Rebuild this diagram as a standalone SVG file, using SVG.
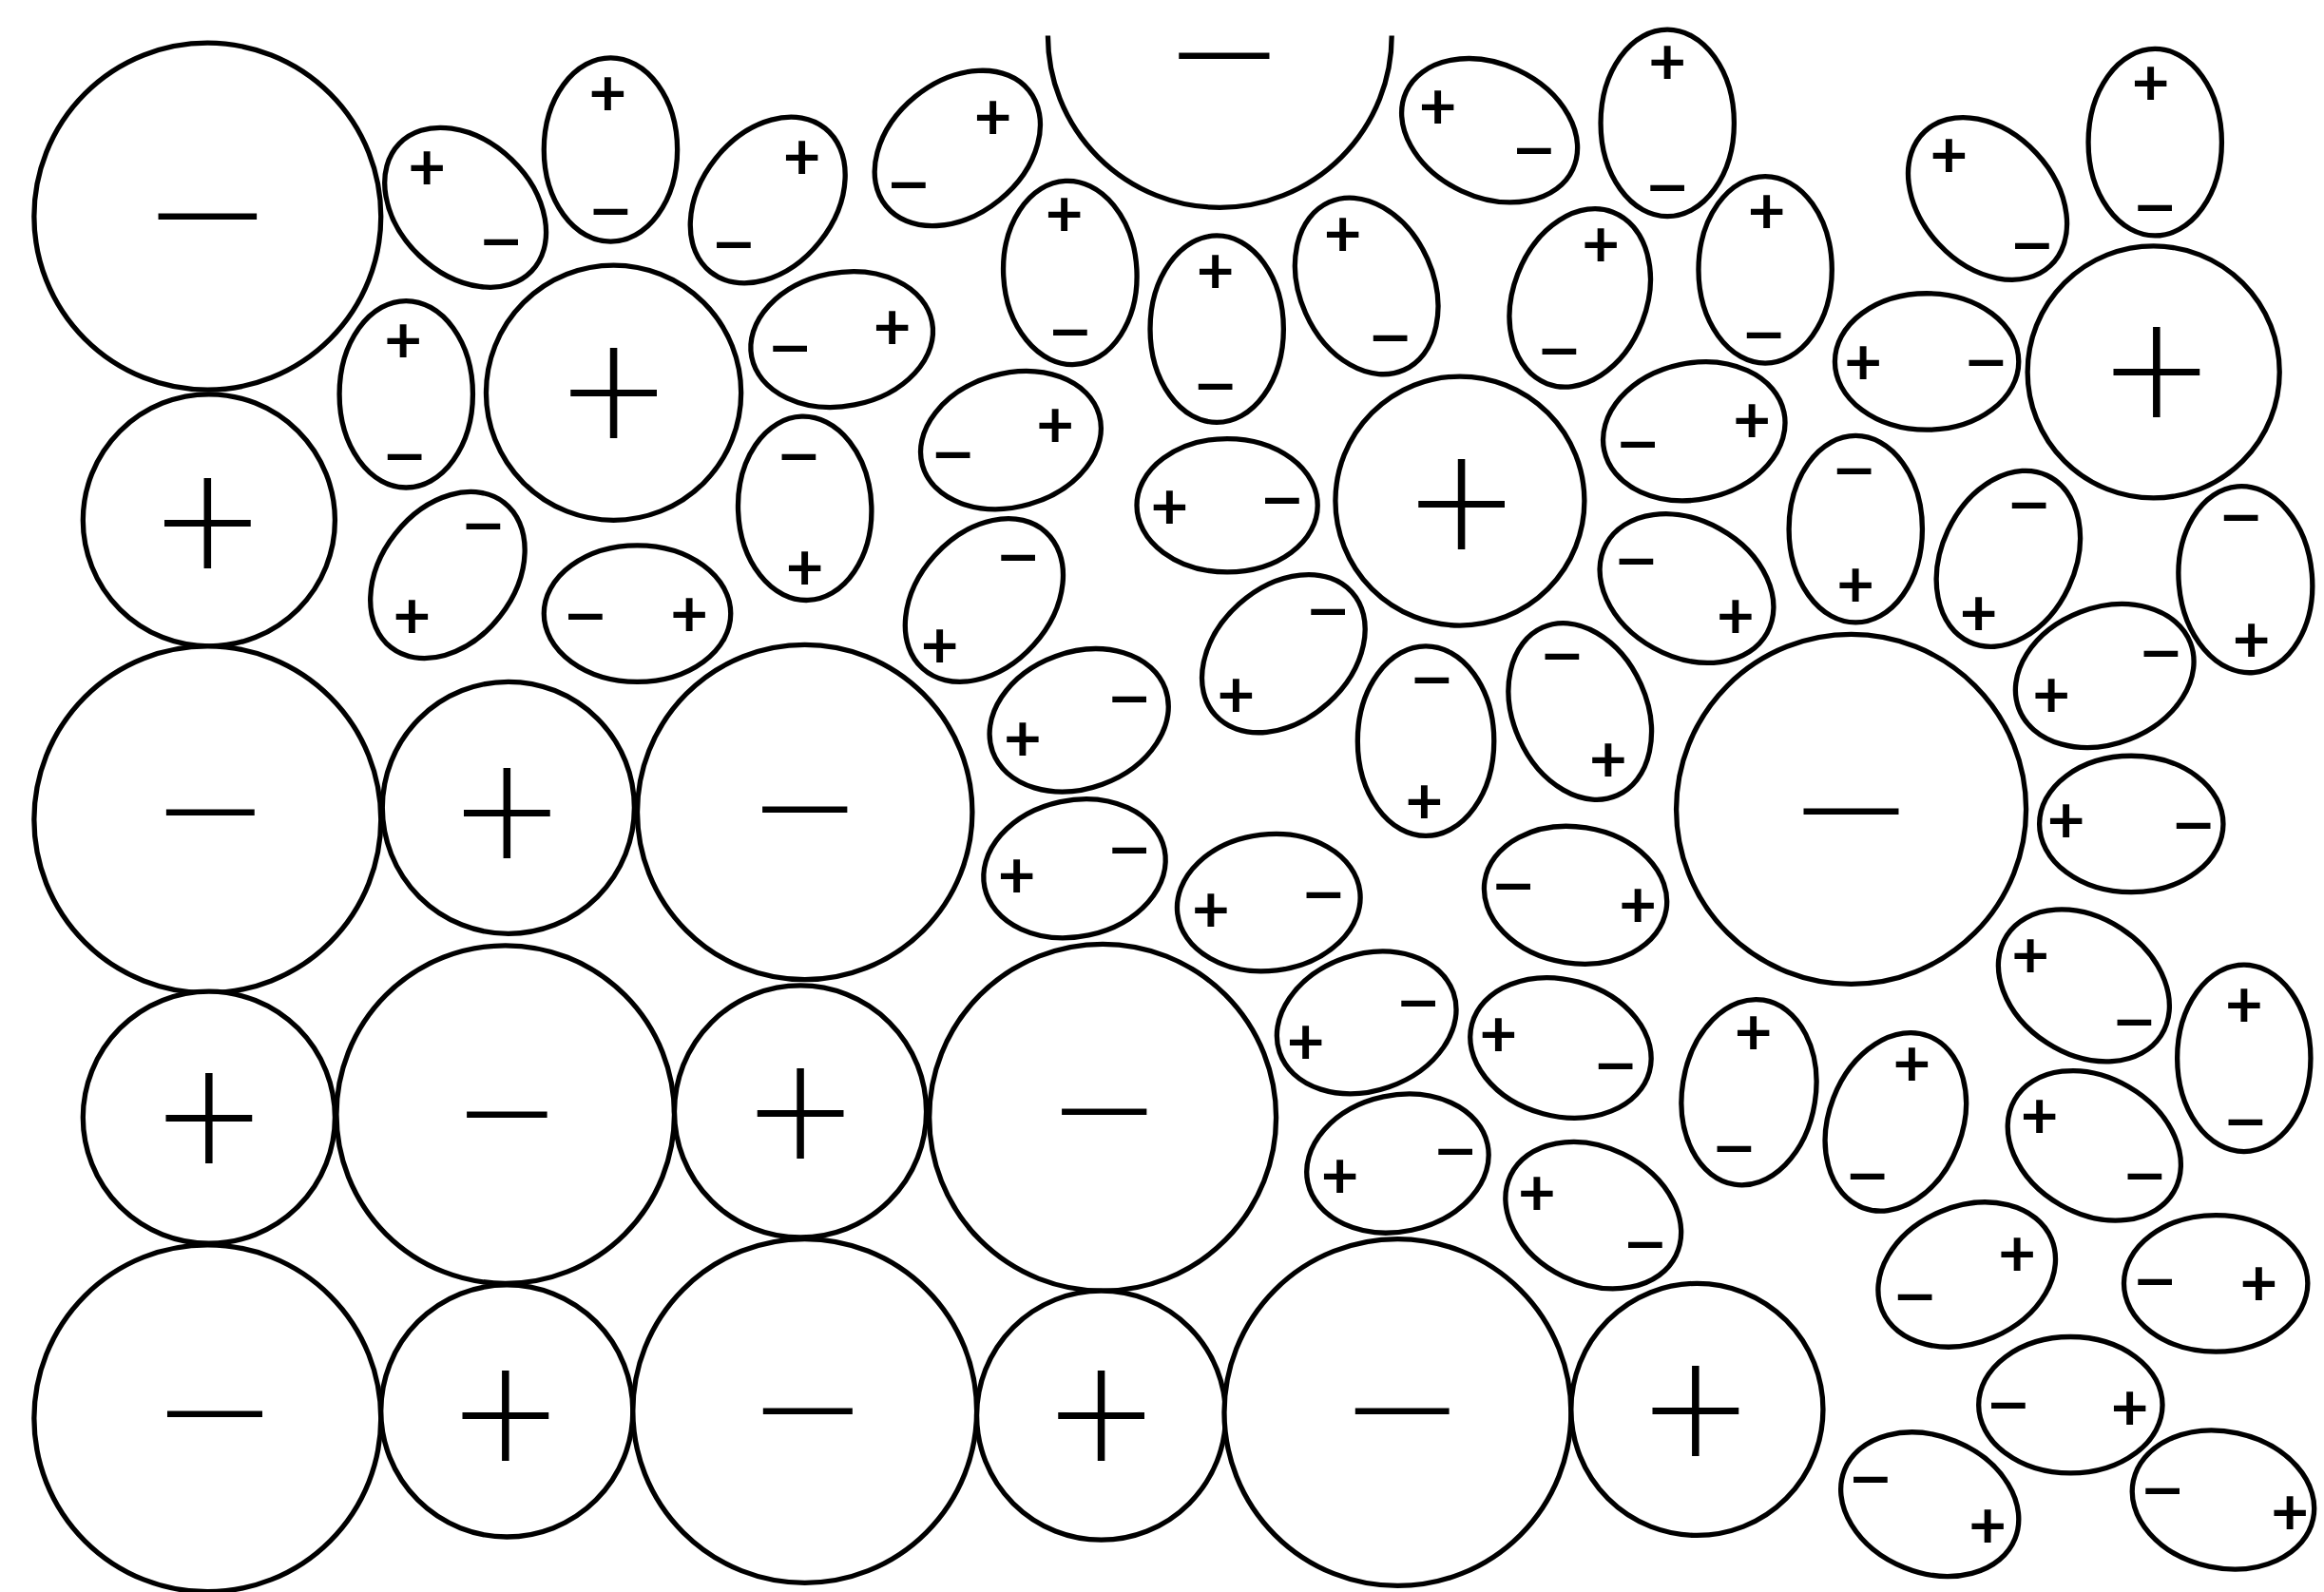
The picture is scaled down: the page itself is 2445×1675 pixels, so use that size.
<svg xmlns="http://www.w3.org/2000/svg" width="2445" height="1675" viewBox="0 0 2445 1675">
<style>
.o{fill:#fff;stroke:#000;stroke-width:3.4}
.a{fill:none;stroke:#000;stroke-width:3.4}
.bp{font-family:Lato,'Noto Sans',sans-serif;font-weight:300;font-size:124px;text-anchor:middle;dominant-baseline:central;fill:#000}
.bm{font-family:Lato,'Noto Sans',sans-serif;font-weight:700;font-size:45px;text-anchor:middle;dominant-baseline:central;fill:#000}
.sp,.sm{font-family:Lato,'Liberation Sans',sans-serif;font-weight:700;font-size:44px;text-anchor:middle;dominant-baseline:central;fill:#000}
</style>
<rect width="2445" height="1675" fill="#fff"/>
<g id="connectors"/>
<g transform="scale(1.55931)">
<g id="ion1"><circle class="o" cx="140" cy="146" r="117"/><text class="bm" x="140" y="144.5" textLength="87" lengthAdjust="spacingAndGlyphs">−</text></g>
<g id="ion2"><circle class="o" cx="141" cy="351" r="85"/><text class="bp" x="140" y="346">+</text></g>
<g id="ion3"><circle class="o" cx="414" cy="265" r="86"/><text class="bp" x="414" y="258.5">+</text></g>
<g id="ion4"><path class="a" d="M707,24 A116,116 0 1 0 939,24"/><text class="bm" x="826" y="36" textLength="80" lengthAdjust="spacingAndGlyphs">−</text></g>
<g id="ion5"><circle class="o" cx="985" cy="338" r="84"/><text class="bp" x="986" y="333.5">+</text></g>
<g id="ion6"><circle class="o" cx="1453" cy="251" r="85"/><text class="bp" x="1455" y="244.5">+</text></g>
<g id="ion7"><circle class="o" cx="140" cy="553" r="117"/><text class="bm" x="142" y="546.5" textLength="78" lengthAdjust="spacingAndGlyphs">−</text></g>
<g id="ion8"><circle class="o" cx="343" cy="545" r="85"/><text class="bp" x="342" y="542">+</text></g>
<g id="ion9"><circle class="o" cx="543" cy="548" r="113"/><text class="bm" x="543" y="544.5" textLength="75" lengthAdjust="spacingAndGlyphs">−</text></g>
<g id="ion10"><circle class="o" cx="1249" cy="546" r="118"/><text class="bm" x="1249" y="545.5" textLength="84" lengthAdjust="spacingAndGlyphs">−</text></g>
<g id="ion11"><circle class="o" cx="141" cy="754" r="85"/><text class="bp" x="141" y="747.5">+</text></g>
<g id="ion12"><circle class="o" cx="341" cy="752" r="114"/><text class="bm" x="342" y="750.5" textLength="71" lengthAdjust="spacingAndGlyphs">−</text></g>
<g id="ion13"><circle class="o" cx="540" cy="750" r="85"/><text class="bp" x="540" y="744.5">+</text></g>
<g id="ion14"><circle class="o" cx="744" cy="754" r="117"/><text class="bm" x="745" y="748.5" textLength="75" lengthAdjust="spacingAndGlyphs">−</text></g>
<g id="ion15"><circle class="o" cx="140" cy="957" r="117"/><text class="bm" x="145" y="952.5" textLength="84" lengthAdjust="spacingAndGlyphs">−</text></g>
<g id="ion16"><circle class="o" cx="342" cy="952" r="85"/><text class="bp" x="341" y="948.5">+</text></g>
<g id="ion17"><circle class="o" cx="543" cy="952" r="116"/><text class="bm" x="545" y="950.5" textLength="79" lengthAdjust="spacingAndGlyphs">−</text></g>
<g id="ion18"><circle class="o" cx="743" cy="955" r="84"/><text class="bp" x="743" y="948.5">+</text></g>
<g id="ion19"><circle class="o" cx="943" cy="953" r="117"/><text class="bm" x="946" y="950.5" textLength="83" lengthAdjust="spacingAndGlyphs">−</text></g>
<g id="ion20"><circle class="o" cx="1145" cy="951" r="85"/><text class="bp" x="1144" y="945.5">+</text></g>

<g id="dipole1"><ellipse class="o" cx="314" cy="140" rx="62" ry="45" transform="rotate(44 314 140)"/><text class="sp" x="288" y="111">+</text><text class="sm" x="338" y="161" textLength="30" lengthAdjust="spacingAndGlyphs">−</text></g>
<g id="dipole2"><ellipse class="o" cx="412" cy="101" rx="62" ry="45" transform="rotate(90 412 101)"/><text class="sp" x="410" y="61">+</text><text class="sm" x="412" y="141" textLength="30" lengthAdjust="spacingAndGlyphs">−</text></g>
<g id="dipole3"><ellipse class="o" cx="518" cy="135" rx="62" ry="45" transform="rotate(-51.5 518 135)"/><text class="sp" x="541" y="104">+</text><text class="sm" x="495" y="163" textLength="30" lengthAdjust="spacingAndGlyphs">−</text></g>
<g id="dipole4"><ellipse class="o" cx="646" cy="100" rx="62" ry="45" transform="rotate(-39 646 100)"/><text class="sp" x="670" y="77">+</text><text class="sm" x="613" y="123" textLength="30" lengthAdjust="spacingAndGlyphs">−</text></g>
<g id="dipole5"><ellipse class="o" cx="722" cy="184" rx="62" ry="45" transform="rotate(87 722 184)"/><text class="sp" x="718" y="143">+</text><text class="sm" x="722" y="222" textLength="30" lengthAdjust="spacingAndGlyphs">−</text></g>
<g id="dipole6"><ellipse class="o" cx="1005" cy="88" rx="62" ry="45" transform="rotate(25 1005 88)"/><text class="sp" x="970" y="70">+</text><text class="sm" x="1035" y="100" textLength="30" lengthAdjust="spacingAndGlyphs">−</text></g>
<g id="dipole7"><ellipse class="o" cx="1125" cy="83" rx="63" ry="45" transform="rotate(90 1125 83)"/><text class="sp" x="1125" y="40">+</text><text class="sm" x="1125" y="125" textLength="30" lengthAdjust="spacingAndGlyphs">−</text></g>
<g id="dipole8"><ellipse class="o" cx="1341" cy="134" rx="62" ry="45" transform="rotate(47 1341 134)"/><text class="sp" x="1315" y="103">+</text><text class="sm" x="1371" y="164" textLength="30" lengthAdjust="spacingAndGlyphs">−</text></g>
<g id="dipole9"><ellipse class="o" cx="1454" cy="96" rx="63" ry="45" transform="rotate(90 1454 96)"/><text class="sp" x="1451" y="54">+</text><text class="sm" x="1454" y="138" textLength="30" lengthAdjust="spacingAndGlyphs">−</text></g>
<g id="dipole10"><ellipse class="o" cx="274" cy="266" rx="63" ry="45" transform="rotate(90 274 266)"/><text class="sp" x="272" y="228">+</text><text class="sm" x="273" y="306" textLength="30" lengthAdjust="spacingAndGlyphs">−</text></g>
<g id="dipole11"><ellipse class="o" cx="568" cy="229" rx="62" ry="45" transform="rotate(-11 568 229)"/><text class="sm" x="533" y="233" textLength="30" lengthAdjust="spacingAndGlyphs">−</text><text class="sp" x="602" y="219">+</text></g>
<g id="dipole12"><ellipse class="o" cx="821" cy="222" rx="63" ry="45" transform="rotate(90 821 222)"/><text class="sp" x="820" y="181">+</text><text class="sm" x="820" y="259" textLength="30" lengthAdjust="spacingAndGlyphs">−</text></g>
<g id="dipole13"><ellipse class="o" cx="922" cy="193" rx="62" ry="45" transform="rotate(66 922 193)"/><text class="sp" x="906" y="156">+</text><text class="sm" x="938" y="226" textLength="30" lengthAdjust="spacingAndGlyphs">−</text></g>
<g id="dipole14"><ellipse class="o" cx="1066" cy="201" rx="62" ry="45" transform="rotate(111 1066 201)"/><text class="sp" x="1080" y="163">+</text><text class="sm" x="1052" y="235" textLength="30" lengthAdjust="spacingAndGlyphs">−</text></g>
<g id="dipole15"><ellipse class="o" cx="1191" cy="182" rx="63" ry="45" transform="rotate(90 1191 182)"/><text class="sp" x="1192" y="141">+</text><text class="sm" x="1190" y="224" textLength="30" lengthAdjust="spacingAndGlyphs">−</text></g>
<g id="dipole16"><ellipse class="o" cx="1300" cy="244" rx="62" ry="46" transform="rotate(0 1300 244)"/><text class="sp" x="1257" y="243">+</text><text class="sm" x="1340" y="243" textLength="30" lengthAdjust="spacingAndGlyphs">−</text></g>
<g id="dipole17"><ellipse class="o" cx="682" cy="297" rx="62" ry="45" transform="rotate(-16 682 297)"/><text class="sm" x="643" y="305" textLength="30" lengthAdjust="spacingAndGlyphs">−</text><text class="sp" x="712" y="285">+</text></g>
<g id="dipole18"><ellipse class="o" cx="543" cy="343" rx="62" ry="45" transform="rotate(88 543 343)"/><text class="sm" x="539" y="306" textLength="30" lengthAdjust="spacingAndGlyphs">−</text><text class="sp" x="543" y="381">+</text></g>
<g id="dipole19"><ellipse class="o" cx="302" cy="388" rx="62" ry="45" transform="rotate(-52 302 388)"/><text class="sp" x="278" y="414">+</text><text class="sm" x="326" y="353" textLength="30" lengthAdjust="spacingAndGlyphs">−</text></g>
<g id="dipole20"><ellipse class="o" cx="430" cy="414" rx="63" ry="46" transform="rotate(0 430 414)"/><text class="sm" x="395" y="414" textLength="30" lengthAdjust="spacingAndGlyphs">−</text><text class="sp" x="465" y="413">+</text></g>
<g id="dipole21"><ellipse class="o" cx="828" cy="341" rx="61" ry="45" transform="rotate(0 828 341)"/><text class="sp" x="789" y="340">+</text><text class="sm" x="865" y="336" textLength="30" lengthAdjust="spacingAndGlyphs">−</text></g>
<g id="dipole22"><ellipse class="o" cx="1143" cy="291" rx="62" ry="46" transform="rotate(-12 1143 291)"/><text class="sm" x="1105" y="298" textLength="30" lengthAdjust="spacingAndGlyphs">−</text><text class="sp" x="1182" y="282">+</text></g>
<g id="dipole23"><ellipse class="o" cx="1252" cy="357" rx="63" ry="45" transform="rotate(90 1252 357)"/><text class="sm" x="1251" y="316" textLength="30" lengthAdjust="spacingAndGlyphs">−</text><text class="sp" x="1252" y="393">+</text></g>
<g id="dipole24"><ellipse class="o" cx="1355" cy="377" rx="62" ry="45" transform="rotate(115 1355 377)"/><text class="sm" x="1369" y="339" textLength="30" lengthAdjust="spacingAndGlyphs">−</text><text class="sp" x="1335" y="412">+</text></g>
<g id="dipole25"><ellipse class="o" cx="1515" cy="391" rx="63" ry="45" transform="rotate(85 1515 391)"/><text class="sm" x="1512" y="347" textLength="30" lengthAdjust="spacingAndGlyphs">−</text><text class="sp" x="1519" y="430">+</text></g>
<g id="dipole26"><ellipse class="o" cx="664" cy="405" rx="62" ry="45" transform="rotate(-48 664 405)"/><text class="sm" x="687" y="374" textLength="30" lengthAdjust="spacingAndGlyphs">−</text><text class="sp" x="634" y="434">+</text></g>
<g id="dipole27"><ellipse class="o" cx="866" cy="441" rx="62" ry="45" transform="rotate(-42 866 441)"/><text class="sm" x="896" y="411" textLength="30" lengthAdjust="spacingAndGlyphs">−</text><text class="sp" x="834" y="467">+</text></g>
<g id="dipole28"><ellipse class="o" cx="1138" cy="397" rx="62" ry="46" transform="rotate(29 1138 397)"/><text class="sm" x="1104" y="377" textLength="30" lengthAdjust="spacingAndGlyphs">−</text><text class="sp" x="1171" y="414">+</text></g>
<g id="dipole29"><ellipse class="o" cx="1420" cy="456" rx="62" ry="46" transform="rotate(-21 1420 456)"/><text class="sp" x="1384" y="467">+</text><text class="sm" x="1458" y="439" textLength="30" lengthAdjust="spacingAndGlyphs">−</text></g>
<g id="dipole30"><ellipse class="o" cx="728" cy="486" rx="62" ry="46" transform="rotate(-20 728 486)"/><text class="sp" x="690" y="497">+</text><text class="sm" x="762" y="470" textLength="30" lengthAdjust="spacingAndGlyphs">−</text></g>
<g id="dipole31"><ellipse class="o" cx="962" cy="500" rx="64" ry="46" transform="rotate(90 962 500)"/><text class="sm" x="966" y="457" textLength="30" lengthAdjust="spacingAndGlyphs">−</text><text class="sp" x="961" y="539">+</text></g>
<g id="dipole32"><ellipse class="o" cx="1066" cy="480" rx="62" ry="45" transform="rotate(66 1066 480)"/><text class="sm" x="1054" y="441" textLength="30" lengthAdjust="spacingAndGlyphs">−</text><text class="sp" x="1085" y="511">+</text></g>
<g id="dipole33"><ellipse class="o" cx="1438" cy="556" rx="62" ry="46" transform="rotate(0 1438 556)"/><text class="sp" x="1394" y="552">+</text><text class="sm" x="1480" y="555" textLength="30" lengthAdjust="spacingAndGlyphs">−</text></g>
<g id="dipole34"><ellipse class="o" cx="725" cy="586" rx="62" ry="46" transform="rotate(-12 725 586)"/><text class="sp" x="686" y="589">+</text><text class="sm" x="762" y="572" textLength="30" lengthAdjust="spacingAndGlyphs">−</text></g>
<g id="dipole35"><ellipse class="o" cx="856" cy="609" rx="62" ry="46" transform="rotate(-7 856 609)"/><text class="sp" x="817" y="612">+</text><text class="sm" x="893" y="602" textLength="30" lengthAdjust="spacingAndGlyphs">−</text></g>
<g id="dipole36"><ellipse class="o" cx="1063" cy="604" rx="62" ry="46" transform="rotate(9 1063 604)"/><text class="sm" x="1021" y="596" textLength="30" lengthAdjust="spacingAndGlyphs">−</text><text class="sp" x="1105" y="609">+</text></g>
<g id="dipole37"><ellipse class="o" cx="1406" cy="665" rx="62" ry="46" transform="rotate(33 1406 665)"/><text class="sp" x="1370" y="643">+</text><text class="sm" x="1440" y="688" textLength="30" lengthAdjust="spacingAndGlyphs">−</text></g>
<g id="dipole38"><ellipse class="o" cx="922" cy="690" rx="62" ry="46" transform="rotate(-19 922 690)"/><text class="sp" x="881" y="701">+</text><text class="sm" x="957" y="675" textLength="30" lengthAdjust="spacingAndGlyphs">−</text></g>
<g id="dipole39"><ellipse class="o" cx="1053" cy="707" rx="62" ry="46" transform="rotate(15 1053 707)"/><text class="sp" x="1011" y="696">+</text><text class="sm" x="1090" y="717" textLength="30" lengthAdjust="spacingAndGlyphs">−</text></g>
<g id="dipole40"><ellipse class="o" cx="1180" cy="737" rx="63" ry="45" transform="rotate(99 1180 737)"/><text class="sp" x="1183" y="695">+</text><text class="sm" x="1170" y="773" textLength="30" lengthAdjust="spacingAndGlyphs">−</text></g>
<g id="dipole41"><ellipse class="o" cx="1279" cy="757" rx="62" ry="45" transform="rotate(111 1279 757)"/><text class="sp" x="1290" y="716">+</text><text class="sm" x="1260" y="792" textLength="30" lengthAdjust="spacingAndGlyphs">−</text></g>
<g id="dipole42"><ellipse class="o" cx="1514" cy="714" rx="63" ry="45" transform="rotate(90 1514 714)"/><text class="sp" x="1514" y="676">+</text><text class="sm" x="1515" y="755" textLength="30" lengthAdjust="spacingAndGlyphs">−</text></g>
<g id="dipole43"><ellipse class="o" cx="1413" cy="773" rx="62" ry="46" transform="rotate(30 1413 773)"/><text class="sp" x="1376" y="751">+</text><text class="sm" x="1447" y="792" textLength="30" lengthAdjust="spacingAndGlyphs">−</text></g>
<g id="dipole44"><ellipse class="o" cx="943" cy="785" rx="62" ry="46" transform="rotate(-12 943 785)"/><text class="sp" x="904" y="792">+</text><text class="sm" x="982" y="775" textLength="30" lengthAdjust="spacingAndGlyphs">−</text></g>
<g id="dipole45"><ellipse class="o" cx="1075" cy="820" rx="62" ry="46" transform="rotate(26 1075 820)"/><text class="sp" x="1037" y="803">+</text><text class="sm" x="1110" y="838" textLength="30" lengthAdjust="spacingAndGlyphs">−</text></g>
<g id="dipole46"><ellipse class="o" cx="1327" cy="860" rx="62" ry="46" transform="rotate(-23 1327 860)"/><text class="sm" x="1292" y="873" textLength="30" lengthAdjust="spacingAndGlyphs">−</text><text class="sp" x="1361" y="844">+</text></g>
<g id="dipole47"><ellipse class="o" cx="1495" cy="866" rx="62" ry="46" transform="rotate(0 1495 866)"/><text class="sm" x="1454" y="863" textLength="30" lengthAdjust="spacingAndGlyphs">−</text><text class="sp" x="1524" y="864">+</text></g>
<g id="dipole48"><ellipse class="o" cx="1397" cy="948" rx="62" ry="46" transform="rotate(0 1397 948)"/><text class="sm" x="1355" y="946" textLength="30" lengthAdjust="spacingAndGlyphs">−</text><text class="sp" x="1437" y="948">+</text></g>
<g id="dipole49"><ellipse class="o" cx="1302" cy="1015" rx="62" ry="46" transform="rotate(22 1302 1015)"/><text class="sm" x="1262" y="996" textLength="30" lengthAdjust="spacingAndGlyphs">−</text><text class="sp" x="1341" y="1028">+</text></g>
<g id="dipole50"><ellipse class="o" cx="1500" cy="1012" rx="62" ry="46" transform="rotate(12 1500 1012)"/><text class="sm" x="1459" y="1004" textLength="30" lengthAdjust="spacingAndGlyphs">−</text><text class="sp" x="1545" y="1019">+</text></g>
</g>
</svg>
